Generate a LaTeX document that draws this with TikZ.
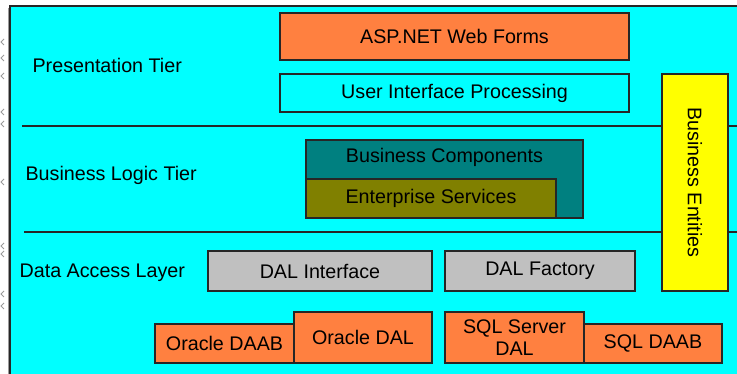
\documentclass[tikz,border=0pt]{standalone}
\usepackage{fontspec}
\setmainfont{Liberation Sans}
\usetikzlibrary{positioning}

\definecolor{tiercyan}{HTML}{00FFFF}
\definecolor{dalorange}{HTML}{FF8040}
\definecolor{bcteal}{HTML}{008080}
\definecolor{esolive}{HTML}{808000}
\definecolor{dalgrey}{HTML}{C0C0C0}
\definecolor{entyellow}{HTML}{FFFF00}
\definecolor{edgegrey}{HTML}{9A9A9A}

\begin{document}
\begin{tikzpicture}[x=1pt,y=-1pt,line width=1.2pt,
                    font=\fontsize{19.7}{23}\selectfont,
                    box/.style={draw=black!85,inner sep=0pt,align=center},
                    orangebox/.style={box,fill=dalorange},
                    greybox/.style={box,fill=dalgrey},
                    tierlabel/.style={anchor=west,inner sep=0pt}]

  \useasboundingbox (0,0) rectangle (737,374);

  % torn edge on the left
  \draw[edgegrey,line width=0.8pt] (8,8) -- (8,374);
  \foreach \y in {42,58,76,112,124,182,246,254,294,306}
    \draw[edgegrey,line width=0.8pt] (4,\y-3) -- (1,\y) -- (4,\y+3);

  % background of the tiers
  \fill[tiercyan] (10,6) rectangle (737,374);
  \draw[black!85] (737,6) -- (10,6) -- (10,374);
  \draw[black!85] (22,126) -- (737,126);
  \draw[black!85] (24,232) -- (737,232);

  \node[tierlabel] (pres) at (32,65)  {Presentation Tier};
  \node[tierlabel] (blt)  at (25,175) {Business Logic Tier};
  \node[tierlabel] (dal)  at (19,273) {Data Access Layer};

  % presentation tier
  \node[orangebox,minimum width=349pt,minimum height=47pt] (asp) at (454.5,36.5) {ASP.NET Web Forms};
  \node[box,fill=tiercyan,minimum width=349pt,minimum height=38pt] (uip) at (454.5,93) {User Interface Processing};

  % business logic tier
  \node[box,fill=bcteal,minimum width=277pt,minimum height=78pt] (bc) at (444.5,179) {};
  \node[inner sep=0pt] (bctext) at (444.5,157) {Business Components};
  \node[box,fill=esolive,minimum width=250pt,minimum height=39pt] (es) at (431,198.5) {Enterprise Services};

  % entities across the tiers
  \node[box,fill=entyellow,rotate=-90,minimum width=217pt,minimum height=66pt] (ent) at (695,182.5) {Business Entities};

  % data access layer
  \node[greybox,minimum width=224pt,minimum height=40pt] (dali) at (320,271) {DAL Interface};
  \node[greybox,minimum width=190pt,minimum height=40pt] (dalf) at (540,271) {DAL Factory};

  \node[orangebox,minimum width=139pt,minimum height=39pt] (odaab) at (224.5,343.5) {Oracle DAAB};
  \node[orangebox,minimum width=138pt,minimum height=51pt] (odal)  at (363,337.5)   {Oracle DAL};
  \node[orangebox,minimum width=139pt,minimum height=51pt,font=\fontsize{19.7}{22}\selectfont] (sdal) at (514.5,337.5) {SQL Server\\DAL};
  \node[orangebox,minimum width=138pt,minimum height=39pt] (sdaab) at (653,343.5) {SQL DAAB};

\end{tikzpicture}
\end{document}
